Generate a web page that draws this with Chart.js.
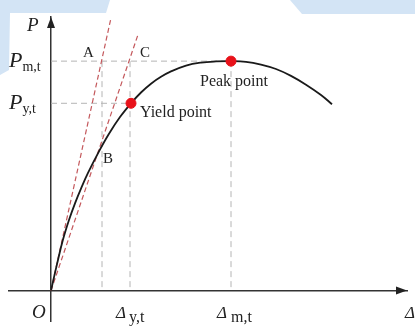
<!DOCTYPE html>
<html>
<head>
<meta charset="utf-8">
<script src="https://cdn.jsdelivr.net/npm/chart.js@4"></script>
<style>
  html, body { margin: 0; padding: 0; background: #ffffff; }
  canvas { display: block; }
</style>
</head>
<body>
<canvas id="c" width="415" height="327"></canvas>
<script>
// ---- data (units) ----
const curveX = [0, 6, 12, 18, 24, 30, 37, 48, 58, 69, 80, 90, 100, 110, 120, 135, 150, 165, 180, 195, 210, 225, 240, 255, 270, 281];
const curveY = [0, 27, 52, 72, 89, 104, 120, 142, 160, 177, 191, 202, 211, 218, 223.5, 229.5, 232.5, 233.7, 234, 233.3, 230.5, 226, 219, 210, 199.5, 190];
const yieldPoint = [80, 191];
const peakPoint = [180, 234];
const lineAX = [0, 60];
const lineAY = [0, 278];
const lineCX = [0, 87];
const lineCY = [0, 261];
const refX = [51, 79, 180];       // A-B vertical, Δy,t, Δm,t
const refY = [191, 234];          // Py,t, Pm,t
const xMin = -42, xMax = 356, yMin = -31, yMax = 279;
const xTickMain = ['O', 'Δ', 'Δ', 'Δ'];
const xTickSub = ['', 'y,t', 'm,t', ''];
const xTickValues = [0, 79, 180, 356];
const yTickMain = ['P', 'P'];
const yTickSub = ['y,t', 'm,t'];
const pointLabels = ['A', 'B', 'C', 'Yield point', 'Peak point'];

const pts = (xs, ys) => xs.map((x, i) => ({ x: x, y: ys[i] }));

const GRAY = '#b4b4b4';
const RED = '#c4585c';

const datasets = [
  { data: [{ x: yieldPoint[0], y: yieldPoint[1] }, { x: peakPoint[0], y: peakPoint[1] }],
    showLine: false, pointRadius: 5, pointBackgroundColor: '#e8121a', pointBorderColor: '#e8121a', order: 0 },
  { data: pts(curveX, curveY), showLine: true, borderColor: '#1a1a1a', borderWidth: 1.8,
    pointRadius: 0, tension: 0.4, order: 1 },
  { data: pts(lineAX, lineAY), showLine: true, borderColor: RED, borderWidth: 1.2, borderDash: [5, 3], pointRadius: 0, order: 2 },
  { data: pts(lineCX, lineCY), showLine: true, borderColor: RED, borderWidth: 1.2, borderDash: [5, 3], pointRadius: 0, order: 2 },
  { data: [{ x: 0, y: refY[1] }, { x: refX[2], y: refY[1] }], showLine: true, borderColor: GRAY, borderWidth: 1, borderDash: [6, 4], pointRadius: 0, order: 3 },
  { data: [{ x: 0, y: refY[0] }, { x: refX[1], y: refY[0] }], showLine: true, borderColor: GRAY, borderWidth: 1, borderDash: [6, 4], pointRadius: 0, order: 3 },
  { data: [{ x: refX[0], y: refY[1] }, { x: refX[0], y: 0 }], showLine: true, borderColor: GRAY, borderWidth: 1, borderDash: [6, 4], pointRadius: 0, order: 3 },
  { data: [{ x: refX[1], y: refY[1] }, { x: refX[1], y: 0 }], showLine: true, borderColor: GRAY, borderWidth: 1, borderDash: [6, 4], pointRadius: 0, order: 3 },
  { data: [{ x: refX[2], y: refY[1] }, { x: refX[2], y: 0 }], showLine: true, borderColor: GRAY, borderWidth: 1, borderDash: [6, 4], pointRadius: 0, order: 3 }
];

const watermark = {
  id: 'watermark',
  beforeDraw(chart) {
    const ctx = chart.ctx;
    ctx.save();
    ctx.fillStyle = '#ffffff';
    ctx.fillRect(0, 0, chart.width, chart.height);
    ctx.fillStyle = '#d3e4f5';
    ctx.beginPath();
    ctx.moveTo(0, 0); ctx.lineTo(110, 0); ctx.lineTo(106, 13); ctx.lineTo(10, 13);
    ctx.lineTo(9, 70); ctx.lineTo(0, 75); ctx.closePath(); ctx.fill();
    ctx.beginPath();
    ctx.moveTo(290, 0); ctx.lineTo(415, 0); ctx.lineTo(415, 14); ctx.lineTo(302, 14); ctx.closePath(); ctx.fill();
    ctx.restore();
  }
};

const decorations = {
  id: 'decorations',
  afterDraw(chart) {
    const ctx = chart.ctx;
    const xs = chart.scales.x, ys = chart.scales.y;
    const px = v => xs.getPixelForValue(v), py = v => ys.getPixelForValue(v);
    ctx.save();
    // arrowheads
    ctx.fillStyle = '#222';
    const ax = px(xMax), ay = py(0);
    ctx.beginPath(); ctx.moveTo(ax, ay); ctx.lineTo(ax - 11, ay - 4); ctx.lineTo(ax - 11, ay + 4); ctx.closePath(); ctx.fill();
    const bx = px(0), by = py(yMax);
    ctx.beginPath(); ctx.moveTo(bx, by); ctx.lineTo(bx - 4, by + 11); ctx.lineTo(bx + 4, by + 11); ctx.closePath(); ctx.fill();

    ctx.fillStyle = '#222';
    ctx.textBaseline = 'alphabetic';
    const serif = '"Liberation Serif", "DejaVu Serif", serif';
    function sub(main, s, x, y, mainSize, subSize, italicMain, gap) {
      ctx.textAlign = 'left';
      ctx.font = (italicMain ? 'italic ' : '') + mainSize + 'px ' + serif;
      ctx.fillText(main, x, y);
      const w = ctx.measureText(main).width;
      if (s) {
        ctx.font = subSize + 'px ' + serif;
        ctx.fillText(s, x + w + gap, y + 4);
      }
    }
    // axis title
    ctx.font = 'italic 19px ' + serif;
    ctx.textAlign = 'left';
    ctx.fillText('P', px(0) - 24, py(yMax) + 14);
    // y tick labels
    sub(yTickMain[1], yTickSub[1], 9, py(refY[1]) + 6, 22, 14, true, 0);
    sub(yTickMain[0], yTickSub[0], 9, py(refY[0]) + 6, 22, 14, true, 0);
    // x tick labels
    sub(xTickMain[0], xTickSub[0], px(xTickValues[0]) - 19, 318, 19, 15, true, 3);
    sub(xTickMain[1], xTickSub[1], px(xTickValues[1]) - 14, 318, 17, 16, true, 3);
    sub(xTickMain[2], xTickSub[2], px(xTickValues[2]) - 14, 318, 17, 16, true, 4);
    sub(xTickMain[3], xTickSub[3], px(xTickValues[3]) - 2, 318, 17, 15, true, 3);
    // point labels
    ctx.font = '15px ' + serif;
    ctx.textAlign = 'left';
    ctx.fillText(pointLabels[0], px(refX[0]) - 19, py(refY[1]) - 4);
    ctx.fillText(pointLabels[1], px(refX[0]) + 1, py(143) + 13);
    ctx.fillText(pointLabels[2], px(refX[1]) + 10, py(refY[1]) - 4);
    ctx.font = '16px ' + serif;
    ctx.fillText(pointLabels[3], px(yieldPoint[0]) + 9, py(yieldPoint[1]) + 14);
    ctx.fillText(pointLabels[4], px(peakPoint[0]) - 31, py(peakPoint[1]) + 25);
    ctx.restore();
  }
};

new Chart(document.getElementById('c'), {
  type: 'scatter',
  data: { datasets: datasets },
  options: {
    responsive: false,
    animation: false,
    devicePixelRatio: 1,
    layout: { padding: { left: 9, right: 8, top: 17, bottom: 0 } },
    plugins: { legend: { display: false }, tooltip: { enabled: false } },
    scales: {
      x: { type: 'linear', min: xMin, max: xMax, position: { y: 0 },
           grid: { display: false, drawTicks: false }, ticks: { display: false },
           border: { display: true, color: '#333', width: 1.5 } },
      y: { type: 'linear', min: yMin, max: yMax, position: { x: 0 },
           grid: { display: false, drawTicks: false }, ticks: { display: false },
           border: { display: true, color: '#333', width: 1.5 } }
    }
  },
  plugins: [watermark, decorations]
});
</script>
</body>
</html>
